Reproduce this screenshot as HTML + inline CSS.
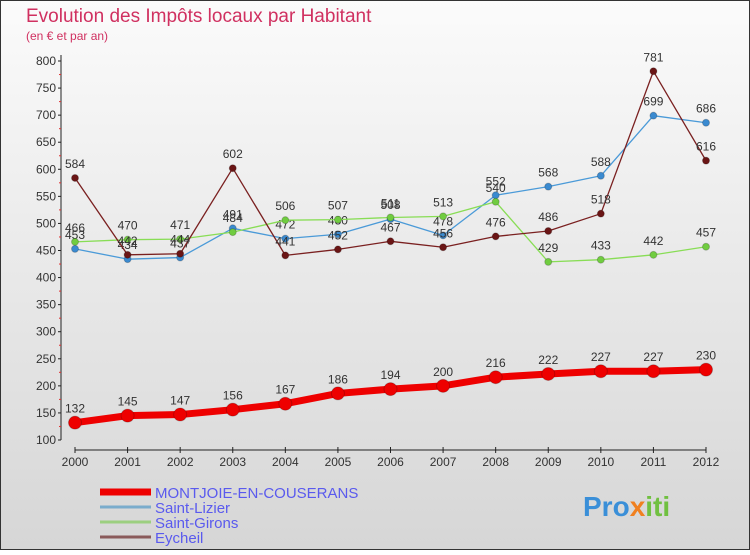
<!DOCTYPE html>
<html><head><meta charset="utf-8"><style>
html,body{margin:0;padding:0}
body{width:750px;height:550px;overflow:hidden;font-family:"Liberation Sans",sans-serif}
svg text{font-family:"Liberation Sans",sans-serif}
</style></head><body>
<svg width="750" height="550" xmlns="http://www.w3.org/2000/svg">
<defs><linearGradient id="bg" x1="0" y1="0" x2="0" y2="1"><stop offset="0" stop-color="#fbfbfb"/><stop offset="1" stop-color="#d6d6d6"/></linearGradient></defs>
<rect x="0.5" y="0.5" width="749" height="549" fill="url(#bg)" stroke="#333"/>
<text x="26" y="22" font-size="19" fill="#d03060">Evolution des Impôts locaux par Habitant</text>
<text x="26" y="40" font-size="12" fill="#d03060">(en € et par an)</text>
<g id="axes"></g>
<g id="series"></g>
<g id="legend"></g>
<text x="583" y="516" font-size="28" font-weight="bold" fill="#3a8fd8">Pro<tspan fill="#f08020">x</tspan><tspan fill="#70c040">iti</tspan></text>
</svg>
<script>
const years=["2000","2001","2002","2003","2004","2005","2006","2007","2008","2009","2010","2011","2012"];
const yTicks=[100,150,200,250,300,350,400,450,500,550,600,650,700,750,800];
const montjoie=[132,145,147,156,167,186,194,200,216,222,227,227,230];
const saintLizier=[453,434,437,491,472,480,508,478,552,568,588,699,686];
const saintGirons=[466,470,471,484,506,507,511,513,540,429,433,442,457];
const eycheil=[584,442,444,602,441,452,467,456,476,486,518,781,616];
const seriesNames=["MONTJOIE-EN-COUSERANS","Saint-Lizier","Saint-Girons","Eycheil"];
const NS="http://www.w3.org/2000/svg";
const xS=i=>75+i*(706-75)/12;
const yS=v=>440-(v-100)*(440-61)/700;
function mk(tag,attrs,parent){const e=document.createElementNS(NS,tag);for(const k in attrs)e.setAttribute(k,attrs[k]);parent.appendChild(e);return e;}
const axes=document.getElementById('axes');
const yl=mk('line',{x1:61,y1:55,x2:61,y2:440,stroke:'#222'},axes);


yTicks.forEach(t=>{
 const y=yS(t);
 mk('line',{x1:58,y1:y,x2:61,y2:y,stroke:'#222'},axes);
 if(t<800) mk('line',{x1:59,y1:yS(t+25),x2:61,y2:yS(t+25),stroke:'#e03030'},axes);
 const tx=mk('text',{x:56,y:y+4,'font-size':12,'text-anchor':'end',fill:'#333'},axes);
 tx.textContent=t;
 
 
});
const xl=mk('line',{x1:75,y1:450,x2:706,y2:450,stroke:'#222'},axes);


years.forEach((yr,i)=>{
 const x=xS(i);
 mk('line',{x1:x,y1:447,x2:x,y2:453,stroke:'#222'},axes);
 const tx=mk('text',{x:x,y:466,'font-size':12,'text-anchor':'middle',fill:'#333'},axes);
 tx.textContent=yr;
 
 
});
const sg=document.getElementById('series');
function draw(vals,name,color,dot,w,r,fs){
 const g=mk('g',{},sg);
 
 
 const p=mk('polyline',{points:vals.map((v,i)=>xS(i)+','+yS(v)).join(' '),fill:'none',stroke:color,'stroke-width':w,'stroke-linejoin':'round'},g);
 
 
 vals.forEach((v,i)=>{
  const c=mk('circle',{cx:xS(i),cy:yS(v),r:r,fill:dot,stroke:'#0003'},g);
  
  
  const t=mk('text',{x:xS(i),y:yS(v)-10,'font-size':fs,'text-anchor':'middle',fill:'#333'},g);
  t.textContent=v;
  
  
 });
}
draw(saintLizier,'saint-lizier','#4a9ad8','#3a8ad0',1.3,3.5,12);
draw(saintGirons,'saint-girons','#88dd55','#70cc40',1.3,3.5,12);
draw(eycheil,'eycheil','#7a2020','#6a1515',1.3,3.5,12);
draw(montjoie,'montjoie','#ee0000','#ee0000',7,6.5,12);
const lg=document.getElementById('legend');
const lc=['#ee0000','#7aaccc','#9ccf80','#8a5a5a'];
const lw=[7,3,3,3];
seriesNames.forEach((n,i)=>{
 const y=492+i*15;
 const l=mk('line',{x1:100,y1:y,x2:151,y2:y,stroke:lc[i],'stroke-width':lw[i]},lg);
 
 
 const t=mk('text',{x:155,y:y+6,'font-size':15,fill:'#5a5aee'},lg);
 t.textContent=n;
 
 
});
</script>
</body></html>
